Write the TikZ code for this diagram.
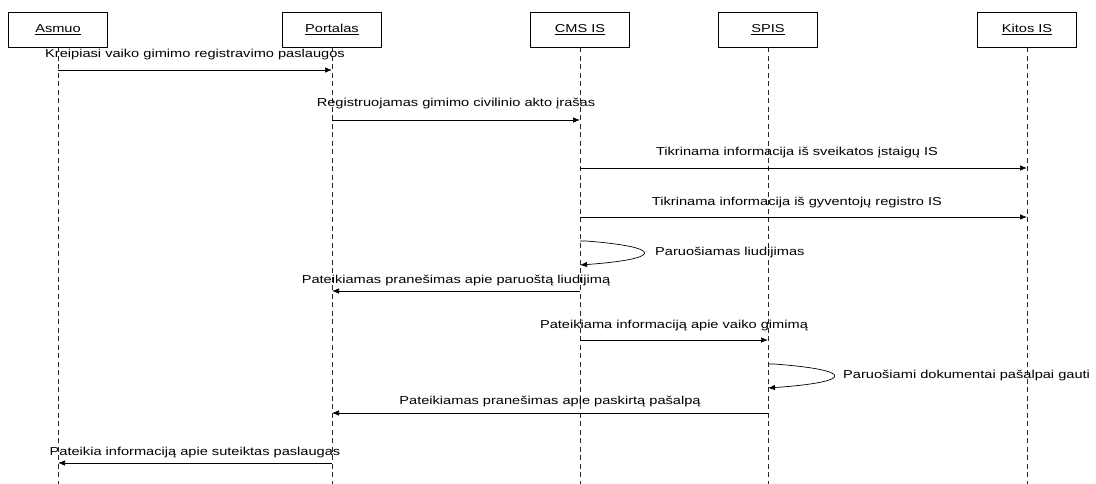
\documentclass[tikz,border=0pt]{standalone}
\usepackage{fontspec}
\setmainfont{Liberation Sans}
\usetikzlibrary{arrows.meta}
% horizontally widened label text
\newcommand{\wtext}[1]{\scalebox{1.27}[1]{#1}}
\begin{document}
\begin{tikzpicture}[x=1pt,y=-1pt,
  every node/.style={font=\fontsize{11.5}{13}\selectfont, text=black},
  head/.style={draw=black, line width=0.7pt, minimum width=99pt, minimum height=35pt, inner sep=0pt},
  lifeline/.style={draw=black!85, line width=0.6pt, dash pattern=on 5pt off 3.5pt},
  msg/.style={draw=black, line width=0.7pt, -{Latex[length=7pt,width=5.5pt]}},
  lbl/.style={anchor=base, inner sep=0pt},
  selflbl/.style={anchor=west, inner sep=0pt}]
\useasboundingbox (0,0) rectangle (1096,484);

% participants
\node[head] (a) at (58,29.5) {\wtext{\underline{Asmuo}}};
\node[head] (p) at (332,29.5) {\wtext{\underline{Portalas}}};
\node[head] (c) at (580,29.5) {\wtext{\underline{CMS IS}}};
\node[head] (s) at (768,29.5) {\wtext{\underline{SPIS}}};
\node[head] (k) at (1027,29.5) {\wtext{\underline{Kitos IS}}};

% lifelines
\foreach \n in {a,p,c,s,k} {
  \coordinate (\n-end) at (\n |- 0,484);
  \draw[lifeline] (\n.south) -- (\n-end);
}

% messages
\draw[msg] (a |- 0,70) -- (p |- 0,70);
\node[lbl] (m1) at (195,58) {\wtext{Kreipiasi vaiko gimimo registravimo paslaugos}};

\draw[msg] (p |- 0,120) -- (c |- 0,120);
\node[lbl] (m2) at (456,107) {\wtext{Registruojamas gimimo civilinio akto įrašas}};

\draw[msg] (c |- 0,168) -- (k |- 0,168);
\node[lbl] (m3) at (797,156) {\wtext{Tikrinama informacija iš sveikatos įstaigų IS}};

\draw[msg] (c |- 0,217) -- (k |- 0,217);
\node[lbl] (m4) at (797,205) {\wtext{Tikrinama informacija iš gyventojų registro IS}};

% self call on CMS IS
\draw[msg] (c |- 0,241) -- ([xshift=6pt]c |- 0,241) .. controls (664,247) and (664,259) .. (c |- 0,265);
\node[selflbl] (m5) at (655,253) {\wtext{Paruošiamas liudijimas}};

\draw[msg] (c |- 0,291) -- (p |- 0,291);
\node[lbl] (m6) at (456,283) {\wtext{Pateikiamas pranešimas apie paruoštą liudijimą}};

\draw[msg] (c |- 0,340) -- (s |- 0,340);
\node[lbl] (m7) at (674,328) {\wtext{Pateikiama informaciją apie vaiko gimimą}};

% self call on SPIS
\draw[msg] (s |- 0,364) -- ([xshift=6pt]s |- 0,364) .. controls (855,370) and (855,382) .. (s |- 0,388);
\node[selflbl] (m8) at (843,376) {\wtext{Paruošiami dokumentai pašalpai gauti}};

\draw[msg] (s |- 0,413) -- (p |- 0,413);
\node[lbl] (m9) at (550,404) {\wtext{Pateikiamas pranešimas apie paskirtą pašalpą}};

\draw[msg] (p |- 0,463) -- (a |- 0,463);
\node[lbl] (m10) at (195,455) {\wtext{Pateikia informaciją apie suteiktas paslaugas}};
\end{tikzpicture}
\end{document}
